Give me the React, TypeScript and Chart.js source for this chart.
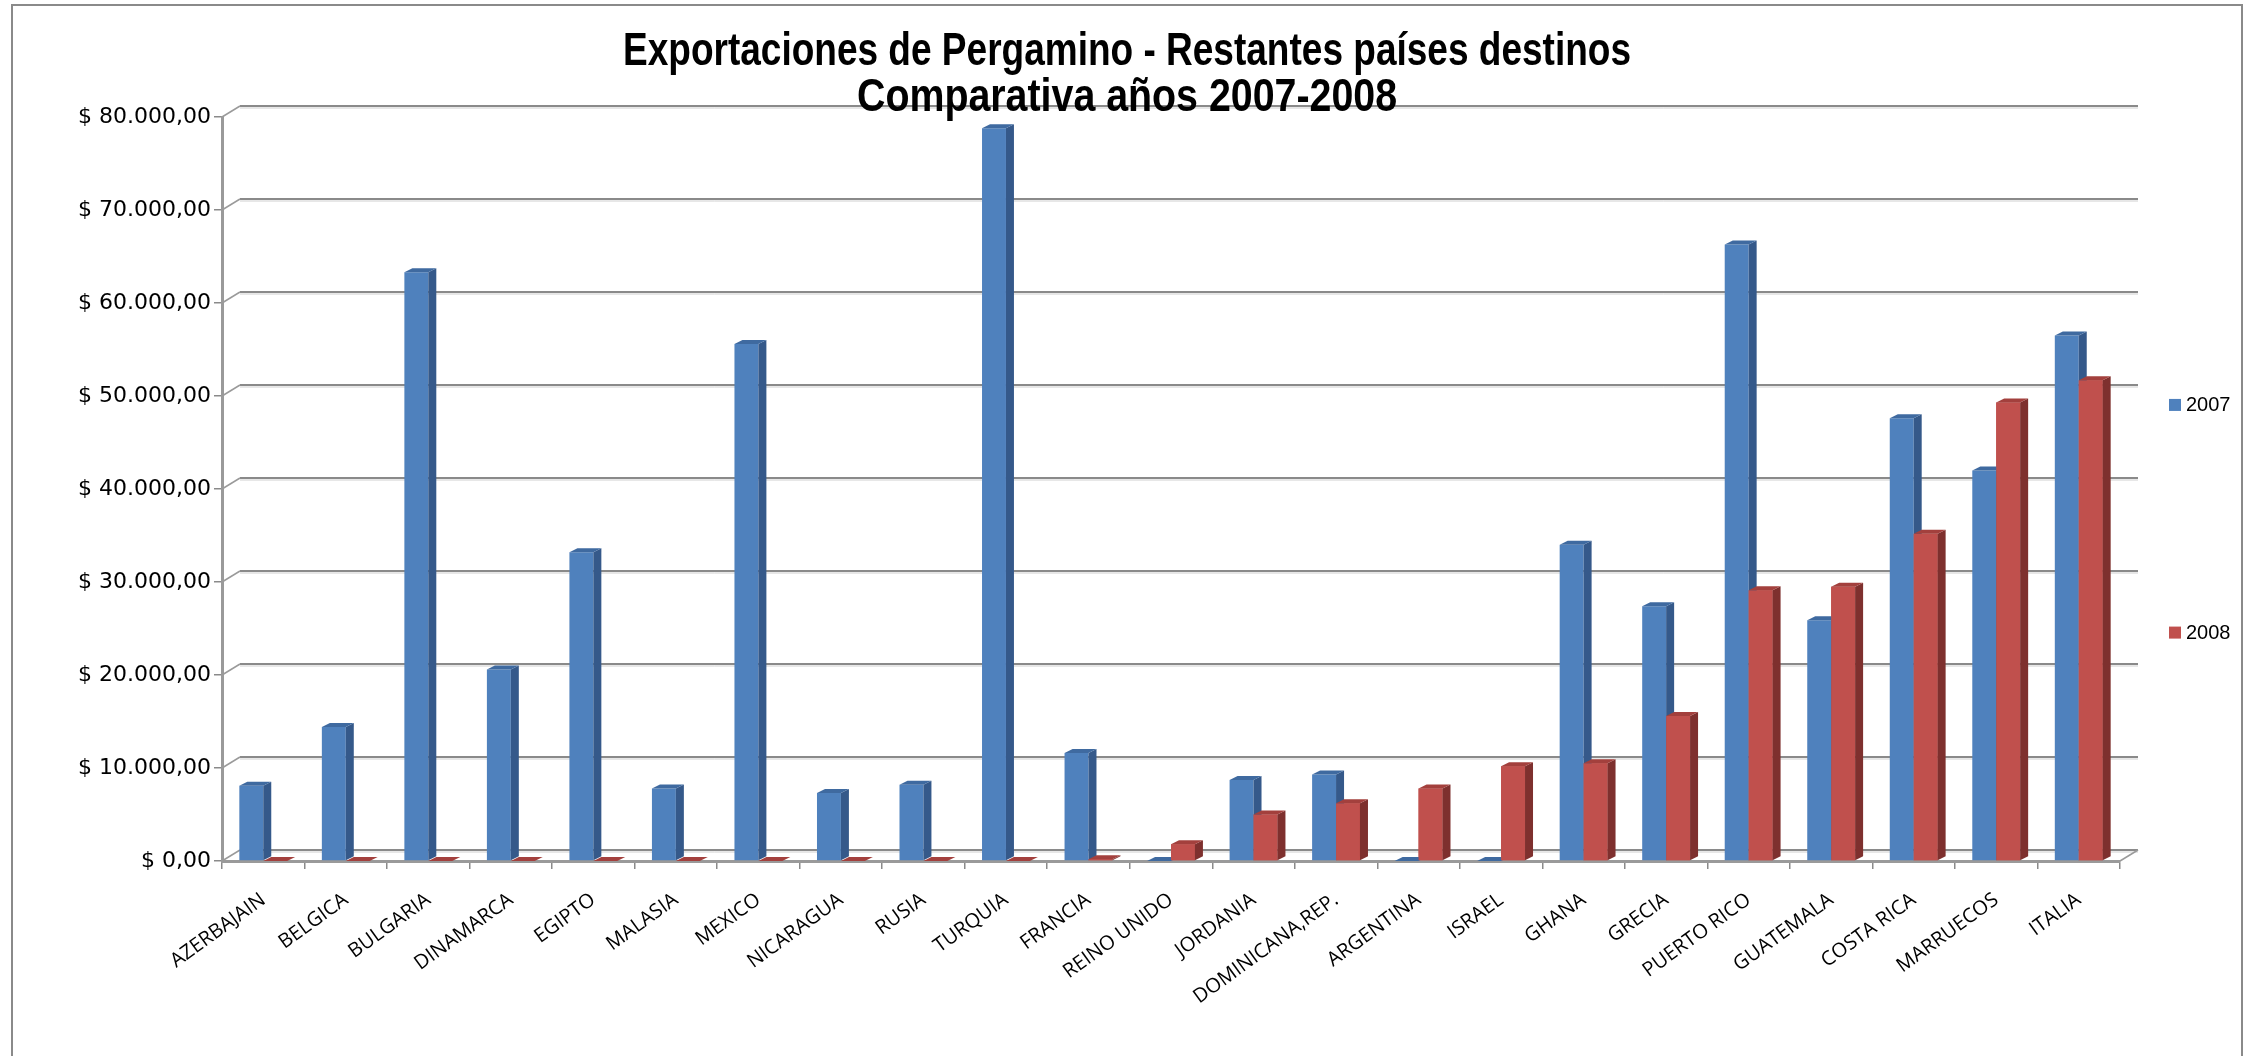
import { useEffect, useRef } from 'react';
import { Chart, registerables } from 'chart.js';

Chart.register(...registerables);

const categories = [
  'AZERBAJAIN', 'BELGICA', 'BULGARIA', 'DINAMARCA', 'EGIPTO', 'MALASIA', 'MEXICO',
  'NICARAGUA', 'RUSIA', 'TURQUIA', 'FRANCIA', 'REINO UNIDO', 'JORDANIA', 'DOMINICANA,REP.',
  'ARGENTINA', 'ISRAEL', 'GHANA', 'GRECIA', 'PUERTO RICO', 'GUATEMALA', 'COSTA RICA',
  'MARRUECOS', 'ITALIA',
];
const values2007 = [
  8100, 14400, 63300, 20600, 33200, 7800, 55600, 7300, 8200, 78800, 11600, 0,
  8700, 9300, 0, 0, 34000, 27400, 66300, 25900, 47600, 42000, 56500,
];
const values2008 = [
  0, 0, 0, 0, 0, 0, 0, 0, 0, 0, 200, 1800,
  5000, 6200, 7800, 10200, 10500, 15600, 29100, 29500, 35200, 49300, 51700,
];
const seriesLabels = ['2007', '2008'];
const titleLines = ['Exportaciones de Pergamino - Restantes países destinos', 'Comparativa años 2007-2008'];
const yMin = 0;
const yMax = 80000;
const yStep = 10000;

const BLUE = '#4F81BD';
const BLUE_SIDE = '#35598A';
const BLUE_TOP = '#3F6AA0';
const RED = '#C0504D';
const RED_SIDE = '#7E302E';
const RED_TOP = '#A3403D';
const seriesColors = [BLUE, RED];

const BAR_DX = 8;
const BAR_DY = 4;
const WALL_DX = 18;
const WALL_DY = 11;

function formatMoney(v: number): string {
  const int = Math.round(v).toString().replace(/\B(?=(\d{3})+(?!\d))/g, '.');
  return '$ ' + int + ',00';
}

const framePlugin = {
  id: 'frame',
  beforeDraw(chart: any) {
    const ctx = chart.ctx;
    ctx.save();
    ctx.fillStyle = '#ffffff';
    ctx.fillRect(0, 0, chart.width, chart.height);
    ctx.strokeStyle = '#8a8a8a';
    ctx.lineWidth = 2;
    ctx.strokeRect(12, 5, chart.width - 17, chart.height + 40);
    ctx.restore();
  },
  afterDraw(chart: any) {
    const ctx = chart.ctx;
    const cx = (12 + chart.width - 5) / 2;
    const targets = [1008, 540];
    const baselines = [65, 111];
    ctx.save();
    ctx.fillStyle = '#000000';
    ctx.font = 'bold 46px "Liberation Sans", Arial, sans-serif';
    ctx.textAlign = 'center';
    ctx.textBaseline = 'alphabetic';
    titleLines.forEach((t, i) => {
      const w = ctx.measureText(t).width;
      const s = Math.min(1, targets[i] / w);
      ctx.save();
      ctx.translate(cx, baselines[i]);
      ctx.scale(s, 1);
      ctx.fillText(t, 0, 0);
      ctx.restore();
    });
    // legend (Excel-style, spread vertically)
    const { top, bottom, right } = chart.chartArea;
    const h = bottom - top;
    const fracs = [0.387, 0.693];
    ctx.font = '20px "Liberation Sans", Arial, sans-serif';
    ctx.textAlign = 'left';
    ctx.textBaseline = 'middle';
    seriesLabels.forEach((lab, i) => {
      const yy = top + fracs[i] * h;
      ctx.fillStyle = seriesColors[i];
      ctx.fillRect(right + 49, yy - 6, 12, 12);
      ctx.fillStyle = '#000000';
      ctx.fillText(lab, right + 66, yy + 1);
    });
    ctx.restore();
  },
};

const wallPlugin = {
  id: 'wall3d',
  beforeDatasetsDraw(chart: any) {
    const { ctx, chartArea } = chart;
    const { left, right, bottom } = chartArea;
    const ys = chart.scales.y;
    ctx.save();
    ys.ticks.forEach((t: any) => {
      const py = ys.getPixelForValue(t.value);
      ctx.strokeStyle = '#cfcfcf';
      ctx.lineWidth = 1;
      ctx.beginPath();
      ctx.moveTo(left + WALL_DX, py - WALL_DY + 2);
      ctx.lineTo(right + WALL_DX, py - WALL_DY + 2);
      ctx.stroke();
      ctx.strokeStyle = '#8a8a8a';
      ctx.lineWidth = 2;
      ctx.beginPath();
      ctx.moveTo(left + WALL_DX, py - WALL_DY);
      ctx.lineTo(right + WALL_DX, py - WALL_DY);
      ctx.stroke();
      ctx.strokeStyle = '#9a9a9a';
      ctx.lineWidth = 1.5;
      ctx.beginPath();
      ctx.moveTo(left, py);
      ctx.lineTo(left + WALL_DX, py - WALL_DY);
      ctx.stroke();
    });
    ctx.strokeStyle = '#9a9a9a';
    ctx.lineWidth = 1.5;
    ctx.beginPath();
    ctx.moveTo(right, bottom);
    ctx.lineTo(right + WALL_DX, bottom - WALL_DY);
    ctx.stroke();
    ctx.restore();
  },
};

function drawFaces(ctx: any, meta: any, side: string, top: string) {
  meta.data.forEach((el: any) => {
    const { x, y, base, width } = el.getProps(['x', 'y', 'base', 'width'], true);
    const l = x - width / 2;
    const r = x + width / 2;
    ctx.fillStyle = side;
    ctx.beginPath();
    ctx.moveTo(r, y);
    ctx.lineTo(r + BAR_DX, y - BAR_DY);
    ctx.lineTo(r + BAR_DX, base - BAR_DY);
    ctx.lineTo(r, base);
    ctx.closePath();
    ctx.fill();
    ctx.fillStyle = top;
    ctx.beginPath();
    ctx.moveTo(l, y);
    ctx.lineTo(l + BAR_DX, y - BAR_DY);
    ctx.lineTo(r + BAR_DX, y - BAR_DY);
    ctx.lineTo(r, y);
    ctx.closePath();
    ctx.fill();
  });
}

const depthPlugin = {
  id: 'depth3d',
  afterDatasetsDraw(chart: any) {
    const ctx = chart.ctx;
    const m0 = chart.getDatasetMeta(0);
    const m1 = chart.getDatasetMeta(1);
    ctx.save();
    drawFaces(ctx, m0, BLUE_SIDE, BLUE_TOP);
    m1.data.forEach((el: any) => el.draw(ctx));
    drawFaces(ctx, m1, RED_SIDE, RED_TOP);
    ctx.restore();
  },
};

export default function App() {
  const ref = useRef<HTMLCanvasElement | null>(null);

  useEffect(() => {
    if (!ref.current) return;
    const chart = new Chart(ref.current, {
      type: 'bar',
      data: {
        labels: categories,
        datasets: [
          {
            label: seriesLabels[0],
            data: values2007,
            backgroundColor: BLUE,
            borderWidth: 0,
            categoryPercentage: 0.58,
            barPercentage: 1,
          },
          {
            label: seriesLabels[1],
            data: values2008,
            backgroundColor: RED,
            borderWidth: 0,
            categoryPercentage: 0.58,
            barPercentage: 1,
          },
        ],
      },
      options: {
        responsive: false,
        animation: false,
        layout: { padding: { left: 12, top: 117, right: 127, bottom: 6 } },
        plugins: {
          title: { display: false },
          tooltip: { enabled: false },
          legend: { display: false },
        },
        scales: {
          x: {
            grid: {
              display: true,
              drawOnChartArea: false,
              drawTicks: true,
              tickLength: 8,
              color: '#8a8a8a',
              lineWidth: 1.5,
            },
            border: { display: true, color: '#9a9a9a', width: 3 },
            ticks: {
              minRotation: 36,
              maxRotation: 36,
              autoSkip: false,
              color: '#000000',
              padding: 19,
              font: { family: '"Open Sans", sans-serif', size: 20 },
            },
            afterFit(s: any) {
              s.height = 189;
            },
          },
          y: {
            min: yMin,
            max: yMax,
            grid: {
              display: true,
              drawOnChartArea: false,
              drawTicks: true,
              tickLength: 8,
              color: '#8a8a8a',
              lineWidth: 1.5,
            },
            border: { display: true, color: '#9a9a9a', width: 3 },
            ticks: {
              stepSize: yStep,
              color: '#000000',
              padding: 3,
              font: { family: '"DejaVu Sans", sans-serif', size: 22 },
              callback: (v: any) => formatMoney(Number(v)),
            },
            afterFit(s: any) {
              s.width = 210;
            },
          },
        },
      },
      plugins: [framePlugin, wallPlugin, depthPlugin],
    } as any);
    return () => chart.destroy();
  }, []);

  return (
    <div style={{ position: 'fixed', left: 0, top: 0, width: '2247px', height: '1056px', background: '#fff' }}>
      <canvas ref={ref} width={2247} height={1056} style={{ display: 'block' }} />
    </div>
  );
}
